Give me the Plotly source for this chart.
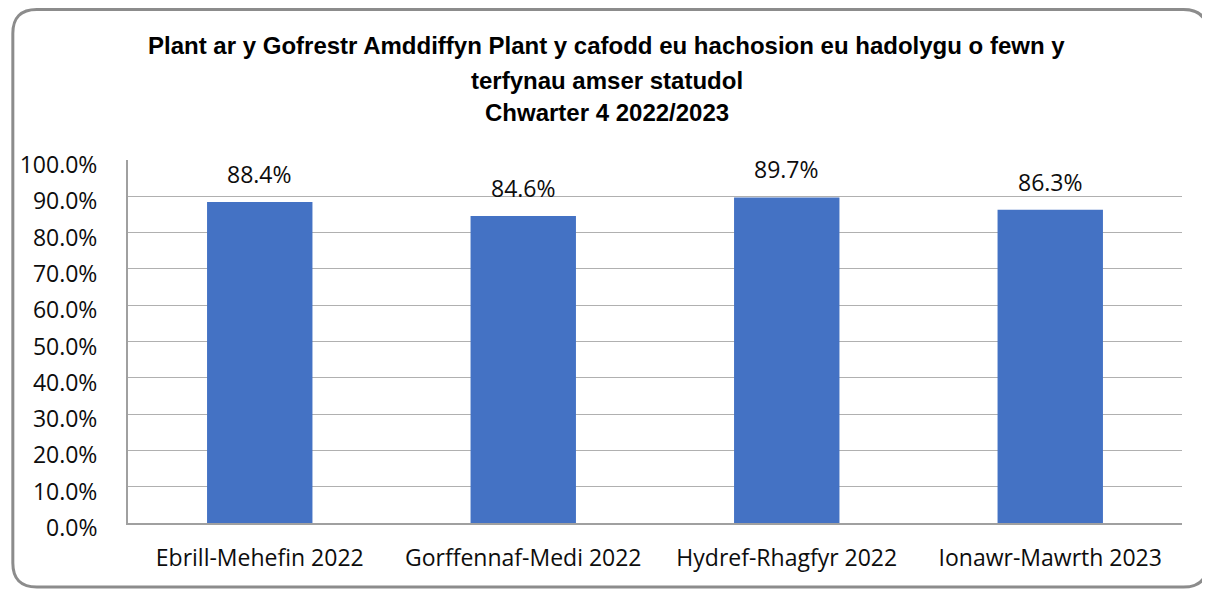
import plotly.graph_objects as go

categories = ["Ebrill-Mehefin 2022", "Gorffennaf-Medi 2022", "Hydref-Rhagfyr 2022", "Ionawr-Mawrth 2023"]
values = [0.884, 0.846, 0.897, 0.863]
value_labels = ["88.4%", "84.6%", "89.7%", "86.3%"]
title_lines = [
    "Plant ar y Gofrestr Amddiffyn Plant y cafodd eu hachosion eu hadolygu o fewn y",
    "terfynau amser statudol",
    "Chwarter 4 2022/2023",
]

# page has an 8px body margin; work in reference-pixel coordinates and offset
O = 8
W, H = 1210 - O, 590 - O
PL, PR, PT, PB = 125, 1182, 160, 523  # plot area in reference pixels
L, T = PL - O, PT - O
R, B = W - (PR - O), H - (PB - O)
PW, PH = PR - PL, PB - PT


def px_x(x):
    return (x - PL) / PW


def px_y(y):
    return (PB - y) / PH


fig = go.Figure()
fig.add_trace(go.Bar(
    x=categories, y=values,
    marker=dict(color="#4472C4", line=dict(width=0)),
    hoverinfo="skip",
))

annotations = []
for c, v, t in zip(categories, values, value_labels):
    annotations.append(dict(
        x=c, y=v, xref="x", yref="y", text=t, showarrow=False,
        yanchor="bottom", yshift=10,
        font=dict(family="Open Sans", size=23, color="#0d0d0d"),
    ))

title_y = [45, 80, 113]
for line, yy in zip(title_lines, title_y):
    annotations.append(dict(
        x=px_x(605), y=px_y(yy), xref="paper", yref="paper", text="<b>%s</b>" % line,
        showarrow=False, xanchor="center", yanchor="middle",
        font=dict(family="Liberation Sans", size=24, color="#000000"),
    ))

# rounded border (reference pixels), kept inside the visible figure area
x0, x1, y0, y1, r = O + 1.5, 1207.5, O + 1.5, 587, 24


def P(x, y):
    return "%.5f,%.5f" % (px_x(x), px_y(y))


path = ("M " + P(x0 + r, y0) + " L " + P(x1 - r, y0) + " Q " + P(x1, y0) + " " + P(x1, y0 + r) +
        " L " + P(x1, y1 - r) + " Q " + P(x1, y1) + " " + P(x1 - r, y1) +
        " L " + P(x0 + r, y1) + " Q " + P(x0, y1) + " " + P(x0, y1 - r) +
        " L " + P(x0, y0 + r) + " Q " + P(x0, y0) + " " + P(x0 + r, y0) + " Z")

fig.update_layout(
    width=W, height=H,
    margin=dict(l=L, r=R, t=T, b=B, pad=0),
    paper_bgcolor="white", plot_bgcolor="white",
    showlegend=False,
    bargap=0.6,
    annotations=annotations,
    shapes=[dict(type="path", path=path, xref="paper", yref="paper",
                 line=dict(color="#8c8c8c", width=3), fillcolor="rgba(0,0,0,0)", layer="above")],
    xaxis=dict(
        showline=True, linecolor="#a0a0a0", linewidth=2,
        showgrid=False, ticks="", ticklabelstandoff=13,
        tickfont=dict(family="Open Sans", size=23, color="#0d0d0d"),
    ),
    yaxis=dict(
        range=[0, 1], dtick=0.1, tick0=0, tickformat=".1%",
        showline=True, linecolor="#a0a0a0", linewidth=2,
        showgrid=True, gridcolor="#b0b0b0", gridwidth=1,
        zeroline=False, ticks="", ticklabelstandoff=24, ticklabelshift=5,
        tickfont=dict(family="Open Sans", size=23, color="#0d0d0d"),
    ),
)

fig.write_html("out.html")
